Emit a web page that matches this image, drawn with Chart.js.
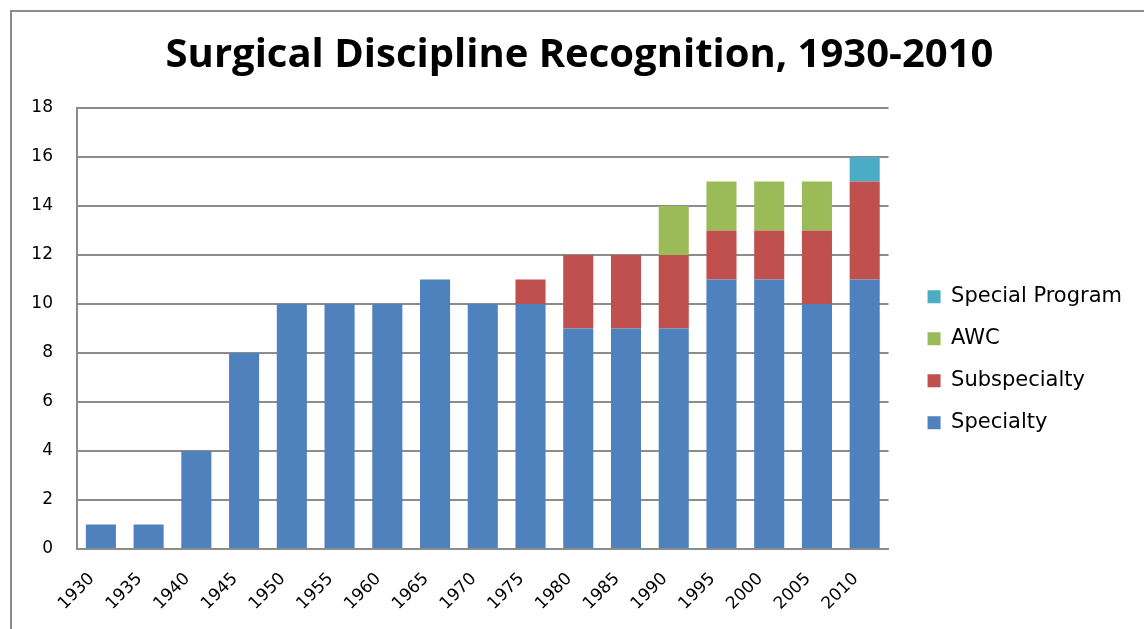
<!DOCTYPE html>
<html>
<head>
<meta charset="utf-8">
<script src="https://cdn.jsdelivr.net/npm/chart.js@4"></script>
<style>
  body { margin: 0; background: #fff; }
  #wrap { position: relative; width: 1144px; height: 629px; }
  #frame { position: absolute; left: 10px; top: 10px; right: 0; bottom: 0;
           border-left: 2px solid #8c8c8c; border-top: 2px solid #8c8c8c; }
  canvas { position: absolute; left: 0; top: 0; }
</style>
</head>
<body>
<div id="wrap">
  <div id="frame"></div>
  <canvas id="myChart" width="1144" height="629"></canvas>
</div>
<script>
const years = ['1930','1935','1940','1945','1950','1955','1960','1965','1970','1975','1980','1985','1990','1995','2000','2005','2010'];
const specialty      = [1, 1, 4, 8, 10, 10, 10, 11, 10, 10, 9, 9, 9, 11, 11, 10, 11];
const subspecialty   = [0, 0, 0, 0, 0, 0, 0, 0, 0, 1, 3, 3, 3, 2, 2, 3, 4];
const awc            = [0, 0, 0, 0, 0, 0, 0, 0, 0, 0, 0, 0, 2, 2, 2, 2, 0];
const specialProgram = [0, 0, 0, 0, 0, 0, 0, 0, 0, 0, 0, 0, 0, 0, 0, 0, 1];

const COLORS = {
  specialty: '#4F81BD',
  subspecialty: '#C0504D',
  awc: '#9BBB59',
  special: '#4BACC6'
};

const ctx = document.getElementById('myChart');

const bar = (label, data, color) => ({
  label: label,
  data: data,
  backgroundColor: color,
  borderWidth: 0,
  categoryPercentage: 1,
  barPercentage: 0.63
});

const myChart = new Chart(ctx, {
  type: 'bar',
  data: {
    labels: years,
    datasets: [
      bar('Specialty', specialty, COLORS.specialty),
      bar('Subspecialty', subspecialty, COLORS.subspecialty),
      bar('AWC', awc, COLORS.awc),
      bar('Special Program', specialProgram, COLORS.special)
    ]
  },
  options: {
    responsive: false,
    animation: false,
    layout: { padding: { left: 27, right: 12, top: 22, bottom: 6 } },
    plugins: {
      title: {
        display: true,
        text: 'Surgical Discipline Recognition, 1930-2010',
        color: '#000',
        font: { family: 'Open Sans', size: 40, weight: 'bold' },
        padding: { top: 10, bottom: 28 }
      },
      legend: {
        position: 'right',
        reverse: true,
        maxWidth: 280,
        title: { display: true, text: '', padding: { top: 60, bottom: 0 } },
        labels: {
          color: '#000',
          boxWidth: 13,
          boxHeight: 13,
          padding: 21,
          font: { family: 'DejaVu Sans', size: 21 }
        }
      },
      tooltip: { enabled: false }
    },
    scales: {
      x: {
        stacked: true,
        grid: { display: false, drawTicks: false },
        border: { color: '#8c8c8c', width: 2 },
        afterFit: (scale) => { scale.height = 74; },
        ticks: {
          color: '#000',
          minRotation: 45,
          maxRotation: 45,
          padding: 20,
          labelOffset: -9,
          font: { family: 'DejaVu Sans', size: 17 }
        }
      },
      y: {
        stacked: true,
        min: 0,
        max: 18,
        grid: { color: '#8c8c8c', lineWidth: 2, drawTicks: false },
        border: { color: '#8c8c8c', width: 2 },
        afterFit: (scale) => { scale.width = 50; },
        ticks: {
          stepSize: 2,
          color: '#000',
          padding: 24,
          font: { family: 'DejaVu Sans', size: 17 }
        }
      },
      gap: {
        position: 'right',
        grid: { display: false, drawTicks: false },
        border: { display: false },
        ticks: { display: false },
        afterFit: (scale) => { scale.width = 18; }
      }
    }
  }
});
</script>
</body>
</html>
